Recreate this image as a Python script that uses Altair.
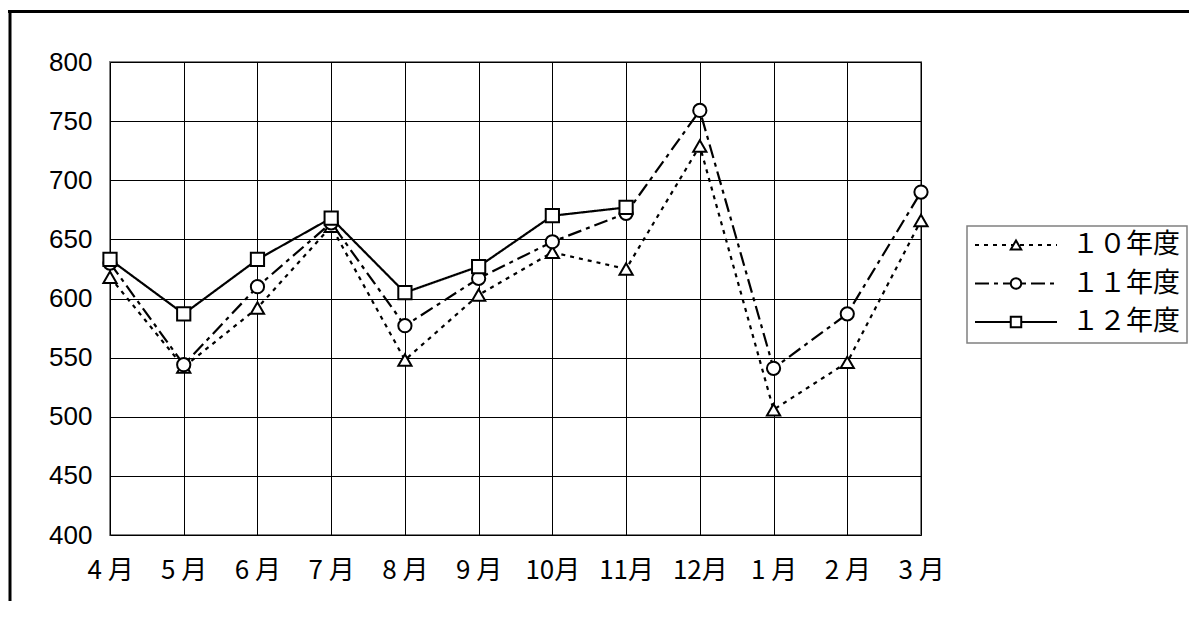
import altair as alt
import pandas as pd

months = ["4 月", "5 月", "6 月", "7 月", "8 月", "9 月", "10月", "11月", "12月", "1 月", "2 月", "3 月"]
series = ["１０年度", "１１年度", "１２年度"]
y10 = [618, 542, 592, 661, 548, 603, 639, 625, 729, 506, 546, 666]
y11 = [630, 544, 610, 664, 577, 617, 648, 672, 759, 541, 587, 690]
y12 = [633, 587, 633, 668, 605, 627, 670, 677]

rows = []
for s, vals in zip(series, [y10, y11, y12]):
    for m, v in zip(months, vals):
        rows.append({"month": m, "value": v, "series": s})
df = pd.DataFrame(rows)
leg = pd.DataFrame({"series": series})
one = pd.DataFrame({"k": [0]})

dash_scale = alt.Scale(domain=series, range=[[4, 5], [14, 5, 4, 5], [1, 0]])
shape_scale = alt.Scale(domain=series, range=["triangle-up", "circle", "square"])

x_enc = alt.X("month:N", sort=months,
              scale=alt.Scale(type="point", padding=0, domain=months),
              axis=alt.Axis(title=None, labelAngle=0, ticks=False, domain=False,
                            grid=True, gridColor="#000000", gridWidth=1, gridOpacity=1,
                            labelFont="Noto Sans CJK JP", labelFontSize=26,
                            labelColor="#000000", labelPadding=22))
y_enc = alt.Y("value:Q", scale=alt.Scale(domain=[400, 800], nice=False, zero=False),
              axis=alt.Axis(title=None, values=list(range(400, 801, 50)), ticks=False,
                            domain=False, grid=True, gridColor="#000000", gridWidth=1,
                            gridOpacity=1, labelFont="Liberation Sans", labelFontSize=26,
                            labelColor="#000000", labelPadding=18))

lines = alt.Chart(df).mark_line(color="black", strokeWidth=2.2).encode(
    x=x_enc, y=y_enc,
    detail="series:N",
    strokeDash=alt.StrokeDash("series:N", scale=dash_scale, legend=None),
)
points = alt.Chart(df).mark_point(filled=True, fill="white", stroke="black",
                                  strokeWidth=2, size=175, opacity=1).encode(
    x=x_enc, y=y_enc,
    shape=alt.Shape("series:N", scale=shape_scale, legend=None),
)
main = alt.layer(lines, points)

ly = alt.Y("series:N", scale=alt.Scale(type="point", domain=series, range=[183, 260], padding=0),
           axis=None)
box = alt.Chart(one).mark_rect(fill="white", stroke="#808080", strokeWidth=1.5).encode(
    x=alt.value(857), x2=alt.value(1077), y=alt.value(164), y2=alt.value(281))
lrule = alt.Chart(leg).mark_rule(color="black", strokeWidth=2.2).encode(
    x=alt.value(865), x2=alt.value(947), y=ly,
    strokeDash=alt.StrokeDash("series:N", scale=dash_scale, legend=None))
lpt = alt.Chart(leg).mark_point(filled=True, fill="white", stroke="black",
                                strokeWidth=2, size=110, opacity=1).encode(
    x=alt.value(906), y=ly,
    shape=alt.Shape("series:N", scale=shape_scale, legend=None))
ltext = alt.Chart(leg).mark_text(align="left", baseline="middle", font="Noto Sans CJK JP",
                                 fontSize=27, color="black").encode(
    x=alt.value(962), y=ly, text="series:N")
legend = alt.layer(box, lrule, lpt, ltext)

frame_top = alt.Chart(one).mark_rule(color="black", strokeWidth=3, strokeCap="square").encode(
    x=alt.value(-102), x2=alt.value(1100), y=alt.value(-50.5))
frame_left = alt.Chart(one).mark_rule(color="black", strokeWidth=3, strokeCap="square").encode(
    x=alt.value(-100), y=alt.value(-50.5), y2=alt.value(620))
frame = alt.layer(frame_top, frame_left)

chart = alt.layer(main, legend, frame).resolve_scale(y="independent").properties(
    width=811, height=473,
    autosize=alt.AutoSizeParams(type="none"),
    padding={"left": 102, "top": 54, "right": 268, "bottom": 66},
    background="white",
).configure_view(stroke="#808080", strokeWidth=2)

chart.save("out.html", embed_options={"renderer": "svg", "actions": False})
